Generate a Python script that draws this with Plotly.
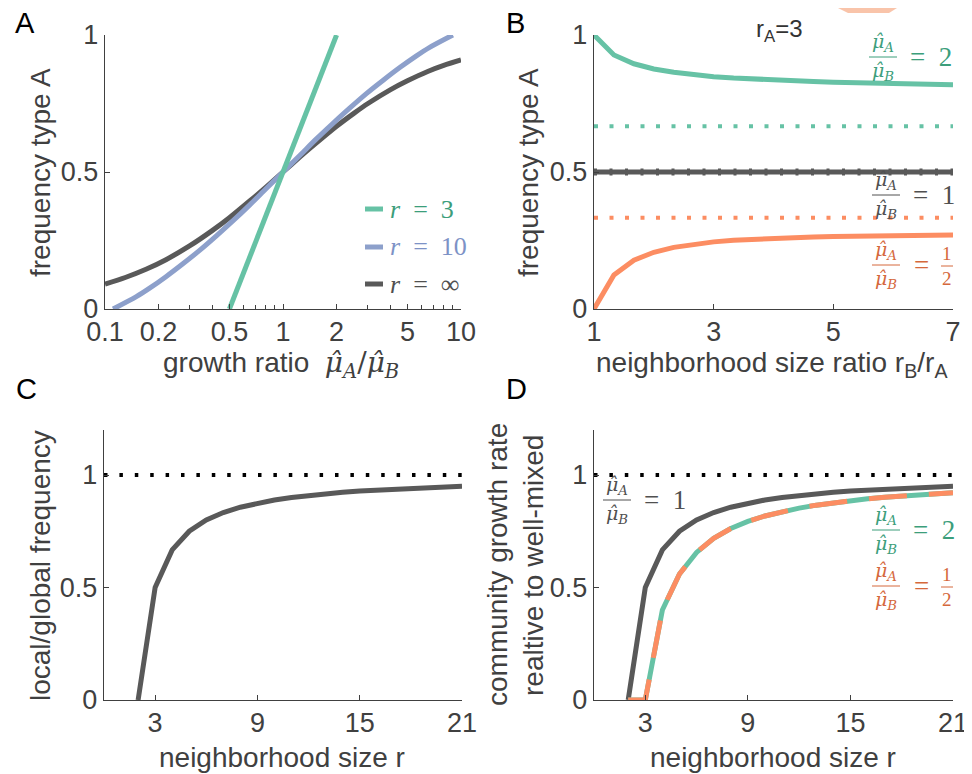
import plotly.graph_objects as go

# The page body keeps an 8 px margin: the figure is sized and positioned to compensate.
OFF = 8
W, H = 972 - OFF, 774 - OFF
SANS = "Liberation Sans"
SERIF = "Liberation Serif"
MATH = "DejaVu Serif"
AXC = "#404040"
GREEN, BLUE, ORANGE, GRAY = "#66c2a5", "#8da0cb", "#fc8d62", "#595959"
GREEN_T, BLUE_T, ORANGE_T, GRAY_T = "#3c9e7b", "#7d92c6", "#d5683c", "#505050"
ESP = "\u2002"

# ---------------- data ----------------
# Panel A : frequency of type A vs growth ratio
ratio_ticks = [0.1, 0.2, 0.5, 1, 2, 5, 10]
ratio_ticktext = ["0.1", "0.2", "0.5", "1", "2", "5", "10"]
ratio_minor = [0.3, 0.4, 0.6, 0.7, 0.8, 0.9, 3, 4, 6, 7, 8, 9]
growth_ratio_r3 = [0.5, 1.0, 2.0]
freq_r3 = [0.0, 0.5, 1.0]
growth_ratio_r10 = [0.111, 0.15, 0.179, 0.22, 0.275, 0.34, 0.424, 0.53, 0.653, 0.8, 1.0, 1.25,
                    1.53, 1.89, 2.36, 2.94, 3.64, 4.55, 5.59, 6.67, 9.0]
freq_r10 = [0.0, 0.045, 0.077, 0.118, 0.166, 0.214, 0.268, 0.325, 0.381, 0.438, 0.5, 0.562,
            0.619, 0.675, 0.732, 0.786, 0.834, 0.882, 0.923, 0.955, 1.0]
growth_ratio_inf = [0.1, 0.13, 0.17, 0.22, 0.3, 0.4, 0.5, 0.65, 0.8, 1.0, 1.25, 1.5, 2.0, 2.5,
                    3.0, 4.0, 5.0, 6.5, 8.0, 10.0]
freq_inf = [0.091, 0.115, 0.145, 0.180, 0.231, 0.286, 0.333, 0.394, 0.444, 0.5, 0.556, 0.6, 0.667,
            0.714, 0.75, 0.8, 0.833, 0.867, 0.889, 0.909]

# Panel B : frequency of type A vs neighbourhood size ratio (r_A = 3)
size_ratio = [1.0, 1.333, 1.667, 2.0, 2.333, 2.667, 3.0, 3.333, 3.667, 4.0, 4.333, 4.667, 5.0,
              5.333, 5.667, 6.0, 6.333, 6.667, 7.0]
freqB_ratio2 = [1.0, 0.927, 0.895, 0.876, 0.864, 0.855, 0.848, 0.843, 0.839, 0.836, 0.833, 0.830,
                0.828, 0.826, 0.824, 0.822, 0.821, 0.819, 0.818]
freqB_ratio1 = [0.5, 0.5, 0.5, 0.5, 0.5, 0.5, 0.5, 0.5, 0.5, 0.5, 0.5, 0.5, 0.5, 0.5, 0.5, 0.5,
                0.5, 0.5, 0.5]
freqB_ratio_half = [0.0, 0.124, 0.178, 0.207, 0.225, 0.237, 0.245, 0.251, 0.255, 0.258, 0.261,
                    0.263, 0.265, 0.266, 0.267, 0.268, 0.269, 0.270, 0.270]
size_ratio_span = [1.0, 7.0]
wellmixed_ratio2 = [0.667, 0.667]
wellmixed_ratio1 = [0.5, 0.5]
wellmixed_ratio_half = [0.333, 0.333]
size_ratio_ticks = [1, 3, 5, 7]

# Panels C, D : vs neighbourhood size r
nbhd_size = [2, 3, 4, 5, 6, 7, 8, 9, 10, 11, 12, 13, 14, 15, 16, 17, 18, 19, 20, 21]
local_global = [0.0, 0.5, 0.667, 0.75, 0.8, 0.833, 0.857, 0.875, 0.889, 0.9, 0.909, 0.917, 0.923,
                0.929, 0.933, 0.938, 0.941, 0.944, 0.947, 0.95]
growth_ratio1 = [0.0, 0.5, 0.667, 0.75, 0.8, 0.833, 0.857, 0.875, 0.889, 0.9, 0.909, 0.917, 0.923,
                 0.929, 0.933, 0.938, 0.941, 0.944, 0.947, 0.95]
growth_ratio2 = [0.0, 0.0, 0.40, 0.56, 0.656, 0.719, 0.762, 0.794, 0.818, 0.837, 0.853, 0.866,
                 0.877, 0.886, 0.894, 0.901, 0.907, 0.912, 0.917, 0.921]
growth_ratio_half = [0.0, 0.0, 0.40, 0.56, 0.656, 0.719, 0.762, 0.794, 0.818, 0.837, 0.853, 0.866,
                     0.877, 0.886, 0.894, 0.901, 0.907, 0.912, 0.917, 0.921]
nbhd_span = [0, 21]
well_mixed_level = [1.0, 1.0]
nbhd_ticks = [3, 9, 15, 21]
freq_ticks = [0, 0.5, 1]
freq_ticktext = ["0", "0.5", "1"]

# ---------------- figure ----------------
fig = go.Figure()


def line(x, y, ax, color, width=5, dash="solid", shape="linear"):
    fig.add_trace(go.Scatter(x=x, y=y, xaxis="x" + ax, yaxis="y" + ax, mode="lines",
                             line=dict(color=color, width=width, dash=dash, shape=shape,
                                       smoothing=0.8),
                             showlegend=False, hoverinfo="skip"))


DOT = "4px,11.5px"
# A
line(growth_ratio_inf, freq_inf, "", GRAY, shape="spline")
line(growth_ratio_r10, freq_r10, "", BLUE, shape="spline")
line(growth_ratio_r3, freq_r3, "", GREEN)
# B
line(size_ratio_span, wellmixed_ratio2, "2", GREEN, width=4, dash=DOT)
line(size_ratio_span, wellmixed_ratio_half, "2", ORANGE, width=4, dash=DOT)
line(size_ratio, freqB_ratio1, "2", GRAY, width=5)
line(size_ratio_span, wellmixed_ratio1, "2", GRAY, width=7, dash="3px,12.5px")
line(size_ratio, freqB_ratio2, "2", GREEN)
line(size_ratio, freqB_ratio_half, "2", ORANGE)
# C
line(nbhd_span, well_mixed_level, "3", "#000000", width=4, dash="3.5px,11.9px")
line(nbhd_size, local_global, "3", GRAY)
# D
line(nbhd_span, well_mixed_level, "4", "#000000", width=4, dash="3.5px,11.9px")
line(nbhd_size, growth_ratio1, "4", GRAY)
line(nbhd_size, growth_ratio2, "4", GREEN)
line(nbhd_size, growth_ratio_half, "4", ORANGE, dash="38px,22px")


def fx(px):
    return (px - OFF) / W


def fy(py):
    return 1 - (py - OFF) / H


def px2(x0, x1):
    return [fx(x0), fx(x1)]


def py2(top, bottom):
    return [fy(bottom), fy(top)]


base = dict(showline=True, linecolor=AXC, linewidth=1.4, ticks="inside", tickcolor=AXC,
            ticklen=5, tickwidth=1.2, showgrid=False, zeroline=False, fixedrange=True,
            automargin=False, tickfont=dict(family=SANS, size=27, color=AXC))
bx = dict(base, ticklabelstandoff=-2)
by = dict(base, ticklabelstandoff=0)

fig.update_layout(
    width=W, height=H, margin=dict(l=0, r=0, t=0, b=0, pad=0, autoexpand=False),
    paper_bgcolor="white", plot_bgcolor="white",
    xaxis=dict(bx, type="log", domain=px2(105, 461), range=[-1, 1], tickvals=ratio_ticks,
               ticktext=ratio_ticktext, anchor="y",
               minor=dict(tickvals=ratio_minor, ticks="inside", ticklen=4, tickcolor=AXC,
                          tickwidth=1.2)),
    yaxis=dict(by, domain=py2(35, 309), range=[0, 1], tickvals=freq_ticks,
               ticktext=freq_ticktext, anchor="x"),
    xaxis2=dict(bx, domain=px2(594, 953), range=[1, 7], tickvals=size_ratio_ticks, anchor="y2"),
    yaxis2=dict(by, domain=py2(35, 309), range=[0, 1], tickvals=freq_ticks,
                ticktext=freq_ticktext, anchor="x2"),
    xaxis3=dict(bx, domain=px2(104, 462), range=[0, 21], tickvals=nbhd_ticks, anchor="y3"),
    yaxis3=dict(by, domain=py2(430, 700), range=[0, 1.2], tickvals=freq_ticks,
                ticktext=freq_ticktext, anchor="x3"),
    xaxis4=dict(bx, domain=px2(594, 953), range=[0, 21], tickvals=nbhd_ticks, anchor="y4"),
    yaxis4=dict(by, domain=py2(430, 700), range=[0, 1.2], tickvals=freq_ticks,
                ticktext=freq_ticktext, anchor="x4"),
)

annotations = []
shapes = []


def ann(text, px, py, size=28, color=AXC, family=SANS, xanchor="center", yanchor="middle",
        angle=0):
    annotations.append(dict(text=text, x=fx(px), y=fy(py), xref="paper", yref="paper",
                            showarrow=False, xanchor=xanchor, yanchor=yanchor, textangle=angle,
                            font=dict(size=size, color=color, family=family), borderpad=0))


def hline(x0, x1, y, color, width):
    shapes.append(dict(type="line", xref="paper", yref="paper", x0=fx(x0), x1=fx(x1),
                       y0=fy(y), y1=fy(y), line=dict(color=color, width=width)))


# panel letters
ann("A", 25, 23, size=29, color="#000000")
ann("B", 515, 23, size=29, color="#000000")
ann("C", 26, 389, size=29, color="#000000")
ann("D", 516, 389, size=29, color="#000000")

# axis titles
MU = "\u03bc\u0302"
ann("growth ratio  <span style='font-family:DejaVu Serif'><i>" + MU + "<sub>A</sub></i>/<i>"
    + MU + "<sub>B</sub></i></span>", 281, 364)
ann("neighborhood size ratio r<sub>B</sub>/r<sub>A</sub>", 772, 364)
ann("neighborhood size r", 282, 757)
ann("neighborhood size r", 773, 757)
ann("frequency type A", 40, 173, angle=-90)
ann("frequency type A", 528, 173, angle=-90)
ann("local/global frequency", 40, 566, angle=-90)
ann("community growth rate", 497, 565, angle=-90)
ann("realtive to well-mixed", 533, 566, angle=-90)
ann("r<sub>A</sub>=3", 779, 30, size=24, color="#333333")

# legend of panel A
for yy, col, tcol, lab in [(209, GREEN, GREEN_T, "3"), (247, BLUE, BLUE_T, "10"),
                           (284, GRAY, GRAY_T, "\u221e")]:
    hline(365, 383, yy, col, 5)
    ann("<i>r</i>" + ESP + "=" + ESP + lab, 389, yy, size=26, color=tcol, family=SERIF,
        xanchor="left")


def frac(xc, ybar, color, rhs=None, half=False):
    ann("<i>" + MU + "<sub>A</sub></i>", xc, ybar - 1, size=19, color=color, family=MATH,
        yanchor="bottom")
    hline(xc - 14, xc + 14, ybar, color, 1)
    ann("<i>" + MU + "<sub>B</sub></i>", xc, ybar + 1, size=19, color=color, family=MATH,
        yanchor="top")
    if not half:
        ann("=" + ESP + rhs, xc + 26, ybar, size=27, color=color, family=SERIF, xanchor="left")
    else:
        ann("=", xc + 27, ybar, size=27, color=color, family=SERIF, xanchor="left")
        ann("1", xc + 61, ybar, size=19, color=color, family=SERIF, yanchor="bottom")
        hline(xc + 55, xc + 67, ybar + 1, color, 1)
        ann("2", xc + 61, ybar + 2, size=19, color=color, family=SERIF, yanchor="top")


frac(883, 57, GREEN_T, "2")
frac(886, 195, GRAY_T, "1")
frac(886, 265, ORANGE_T, half=True)
frac(617, 500, GRAY_T, "1")
frac(886, 530, GREEN_T, "2")
frac(886, 586, ORANGE_T, half=True)

# cropping remnants at the top / right edge of the original figure
shapes.append(dict(type="path", xref="paper", yref="paper", line=dict(width=0),
                   fillcolor="#f9c4aa",
                   path="M %f %f L %f %f L %f %f L %f %f Z" % (fx(838), fy(OFF), fx(897), fy(OFF),
                                                               fx(889), fy(13), fx(848), fy(13))))
shapes.append(dict(type="rect", xref="paper", yref="paper", line=dict(width=0),
                   fillcolor="#f8cbb6", x0=fx(969), x1=fx(972), y0=fy(100), y1=fy(65)))

fig.update_layout(annotations=annotations, shapes=shapes)
fig.write_html("out.html")
